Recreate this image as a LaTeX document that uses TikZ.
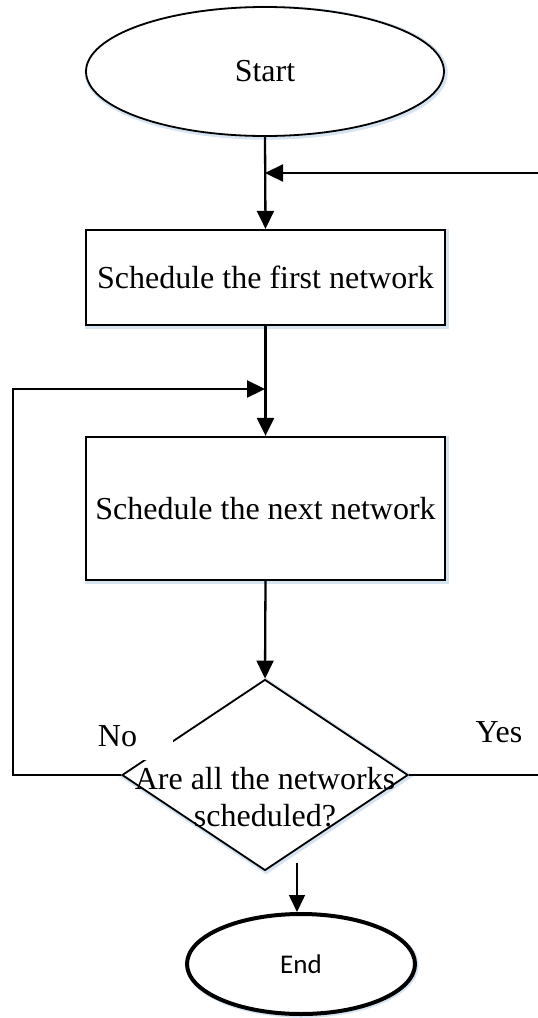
\documentclass[tikz,border=0pt]{standalone}
\usepackage{fontspec}
\setmainfont{Liberation Serif}
\newfontfamily\endfont{Carlito}
\usetikzlibrary{shapes.geometric,arrows.meta}

\definecolor{glow}{RGB}{214,228,242}

\tikzset{
  glowing/.style={preaction={draw=glow, line width=5pt,
      transform canvas={shift={(1.2pt,-1.2pt)}}}},
  terminal/.style={ellipse, draw, fill=white, inner sep=0pt, glowing},
  stepbox/.style={rectangle, draw, fill=white, line width=2.3pt, inner sep=0pt,
      minimum width=359pt, glowing},
  decision/.style={diamond, draw, fill=white, line width=1.8pt, inner sep=0pt,
      minimum width=286pt, minimum height=191pt, glowing},
  flow/.style={line width=2.3pt, -{Triangle[length=18pt,width=17pt]}},
  plain/.style={line width=2.3pt},
  serif/.style={font=\fontsize{32}{37}\selectfont},
}

\begin{document}
\begin{tikzpicture}[x=1pt, y=-1pt]
  \useasboundingbox (0,0) rectangle (538,1018);

  % shapes
  \node[terminal, line width=1.8pt, minimum width=358pt, minimum height=129pt, serif]
    (start) at (265,71.5) {Start};
  \node[stepbox, minimum height=95pt, serif] (first) at (265.5,277.5)
    {Schedule the first network};
  \node[stepbox, minimum height=143pt, serif] (next) at (265.5,508.5)
    {Schedule the next network};
  \node[decision] (check) at (265,775) {};
  \node[serif, align=center, inner sep=0pt] (checktext) at (265,797)
    {Are all the networks\\scheduled?};
  \node[terminal, line width=4pt, minimum width=228pt, minimum height=100pt,
        font=\endfont\fontsize{27}{30}\selectfont] (stop) at (301,964) {End};

  % branch labels
  \node[fill=white, inner sep=0pt, minimum width=85pt, minimum height=48pt, serif]
    (no) at (130.5,736) {No\hspace*{26pt}};
  \node[serif, inner sep=0pt] (yes) at (499,732) {Yes};

  % free ends and junctions of the connectors
  \coordinate (fromright) at (538,173);
  \coordinate (mergetop) at (265,173);
  \coordinate (leftcorner) at (13,775);
  \coordinate (mergeloop) at (265,389);
  \coordinate (yesend) at (538,775);
  \coordinate (endtail) at (297,863);

  % connectors
  \draw[flow] (start.south) -- (first.north);
  \draw[flow] (fromright) -- (mergetop);
  \draw[flow] (first.south) -- (next.north);
  \draw[flow] (check.west) -- (leftcorner) |- (mergeloop);
  \draw[flow] (next.south) -- (check.north);
  \draw[plain] (check.east) -- (yesend);
  \draw[line width=1.5pt, -{Triangle[length=17pt,width=16pt]}]
    (endtail) -- (endtail |- stop.north);
\end{tikzpicture}
\end{document}
